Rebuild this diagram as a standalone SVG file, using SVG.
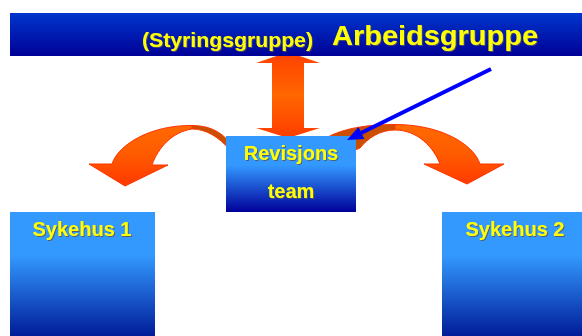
<svg xmlns="http://www.w3.org/2000/svg" width="582" height="336" viewBox="0 0 582 336">
<style>
.t{font-family:"Liberation Sans",Arial,sans-serif;font-weight:bold;fill:#ffff00;filter:url(#sh)}
.c{text-anchor:middle;font-size:20px}
.rim{stroke:#ff3300;stroke-width:1;stroke-linejoin:round}
</style>
<defs>
<filter id="sh" x="-10%" y="-20%" width="130%" height="150%">
<feDropShadow dx="1" dy="1" stdDeviation="0.6" flood-color="#555555" flood-opacity="0.85"/>
</filter>
<linearGradient id="gBanner" x1="0" y1="0" x2="0" y2="1">
<stop offset="0" stop-color="#0036cc"/>
<stop offset="1" stop-color="#000096"/>
</linearGradient>
<linearGradient id="gBox" x1="0" y1="0" x2="0" y2="1">
<stop offset="0" stop-color="#3399ff"/>
<stop offset="0.38" stop-color="#3399ff"/>
<stop offset="1" stop-color="#000099"/>
</linearGradient>
<linearGradient id="gSyk" x1="0" y1="0" x2="0" y2="1">
<stop offset="0" stop-color="#3399ff"/>
<stop offset="0.35" stop-color="#3399ff"/>
<stop offset="1" stop-color="#001c99"/>
</linearGradient>
<linearGradient id="gCurve" gradientUnits="userSpaceOnUse" x1="0" y1="124" x2="0" y2="186">
<stop offset="0" stop-color="#ff6a00"/>
<stop offset="0.5" stop-color="#ff5a00"/>
<stop offset="1" stop-color="#ff3800"/>
</linearGradient>
<linearGradient id="gVert" gradientUnits="userSpaceOnUse" x1="0" y1="52" x2="0" y2="138">
<stop offset="0" stop-color="#ff4000"/>
<stop offset="0.5" stop-color="#ff6600"/>
<stop offset="1" stop-color="#ff3c00"/>
</linearGradient>
<clipPath id="outside">
<path clip-rule="evenodd" d="M0,0H582V336H0Z M226,136H356V212H226Z M10,13H582V56H10Z"/>
</clipPath>
</defs>

<g id="arbeidsgruppe">
<rect x="10" y="13" width="572" height="43" fill="url(#gBanner)"/>
<text class="t" x="142" y="47" font-size="21" textLength="171" lengthAdjust="spacingAndGlyphs">(Styringsgruppe)</text>
<text class="t" x="332" y="45" font-size="28" textLength="206" lengthAdjust="spacingAndGlyphs">Arbeidsgruppe</text>
</g>

<g id="revisjonsteam">
<rect x="226" y="136" width="130" height="76" fill="url(#gBox)"/>
<text class="t c" x="291" y="160">Revisjons</text>
<text class="t c" x="291" y="198">team</text>
</g>

<g id="sykehus1">
<rect x="10" y="212" width="145" height="124" fill="url(#gSyk)"/>
<text class="t c" x="82" y="236">Sykehus 1</text>
</g>

<g id="sykehus2">
<rect x="442" y="212" width="140" height="124" fill="url(#gSyk)"/>
<text class="t c" x="515" y="236">Sykehus 2</text>
</g>

<g id="connectors">
<g clip-path="url(#outside)">
<polygon fill="url(#gVert)" points="288,52 320,63 304,63 304,128 320,128 288,138 256,128 272,128 272,63 256,63"/>
<path class="rim" fill="#c85000" d="M192,125.5 C208,125.5 221,131 230,143 L230,150 C219,137 206,129 192,129 Z"/>
<path class="rim" fill="url(#gCurve)" d="M192,125.5 C150,125 118,145 112,164 L89,164 L125,186 L168,165 L152,165 C158,148 172,132 192,129 Z"/>
<path class="rim" fill="#c85000" d="M395,124.5 C372,124.5 345,127 326,138 L350,152 L360,148 C368,138 380,130 395,130 Z"/>
<path class="rim" fill="url(#gCurve)" d="M395,124.5 C442,124.5 474,145 480,164 L504,164 L467,184 L424,164 L440,164 C434,148 418,130 395,130 Z"/>
</g>
<line x1="491" y1="69" x2="361" y2="133" stroke="#0000ff" stroke-width="4"/>
<polygon fill="#0000ff" points="347,140 358.5,127 364.3,139"/>
</g>
</svg>
